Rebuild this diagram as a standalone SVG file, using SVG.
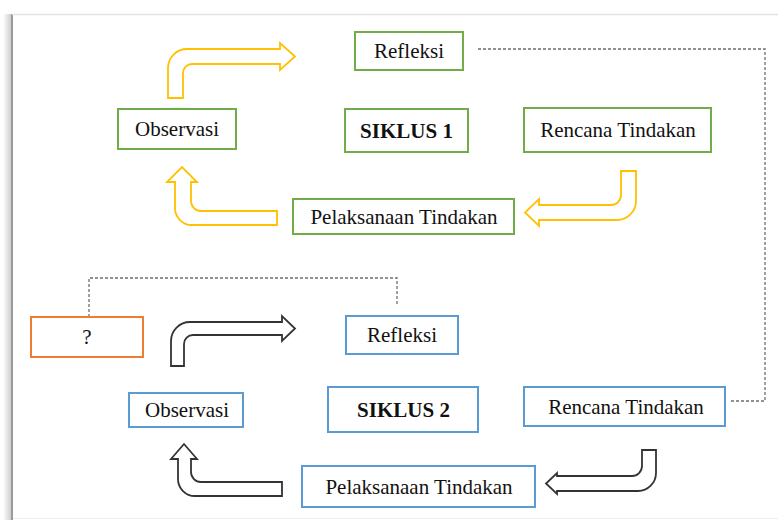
<svg xmlns="http://www.w3.org/2000/svg" width="778" height="520" viewBox="0 0 778 520">
  <defs>
    <linearGradient id="shadowL" x1="0" y1="0" x2="1" y2="0">
      <stop offset="0" stop-color="#ffffff"/>
      <stop offset="1" stop-color="#c8c8c8"/>
    </linearGradient>
    <style>
      text { font-family: "Liberation Serif", "Times New Roman", serif; font-size: 21px; fill: #111111; text-anchor: middle; }
      .bold { font-weight: bold; }
      .g { fill: #ffffff; stroke: #70AD47; stroke-width: 2; }
      .b { fill: #ffffff; stroke: #5B9BD5; stroke-width: 2; }
      .o { fill: #ffffff; stroke: #ED7D31; stroke-width: 2; }
      .ya { fill: #ffffff; stroke: #FFC000; stroke-width: 1.8; stroke-linejoin: miter; }
      .ka { fill: #ffffff; stroke: #333333; stroke-width: 1.8; stroke-linejoin: miter; }
      .dash { fill: none; stroke: #6e6e6e; stroke-width: 1.3; stroke-dasharray: 3 2; }
    </style>
  </defs>

  <!-- page frame -->
  <rect x="0" y="0" width="778" height="520" fill="#ffffff"/>
  <rect x="3" y="14" width="9" height="506" fill="url(#shadowL)"/>
  <line x1="12" y1="14" x2="12" y2="520" stroke="#9a9a9a" stroke-width="2"/>
  <line x1="12" y1="14.5" x2="778" y2="14.5" stroke="#e4e4e4" stroke-width="1.5"/>
  <line x1="13" y1="518.5" x2="778" y2="518.5" stroke="#eeeeee" stroke-width="1"/>

  <!-- connectors -->
  <g id="connectors">
    <path class="dash" d="M478,49 H765 V401 H729"/>
    <path class="dash" d="M89,317 V278 H397 V306"/>
    <!-- yellow cycle 1 arrows -->
    <path class="ya" d="M168,98 V68 A19,19 0 0 1 187,49 H280 V43 L295,56.5 L280,70 V64 H192 A9,9 0 0 0 183,73 V98 Z"/>
    <path class="ya" d="M277,225 H192 A17,17 0 0 1 175,208 V182 H167 L182,167 L197,182 H191 V201 A10,10 0 0 0 201,211 H277 Z"/>
    <path class="ya" d="M621,171 H636 V201 A19,19 0 0 1 617,220 H539 V226 L525,212.5 L539,199 V205 H611 A10,10 0 0 0 621,195 Z"/>
    <!-- black cycle 2 arrows -->
    <path class="ka" d="M171,366 V341 A19,19 0 0 1 190,322 H282 V316 L295,328.5 L282,341 V335 H193 A9,9 0 0 0 184,344 V366 Z"/>
    <path class="ka" d="M282,496 H195 A17,17 0 0 1 178,479 V459 H171 L184,444 L197,459 H191 V472 A10,10 0 0 0 201,482 H282 Z"/>
    <path class="ka" d="M642,450 H656 V473 A18,18 0 0 1 638,491 H557 V494 L546,483.5 L557,473 V476 H632 A10,10 0 0 0 642,466 Z"/>
  </g>

  <!-- cycle 1 -->
  <g id="refleksi1"><rect class="g" x="355" y="32" width="108" height="38"/><text x="409" y="58">Refleksi</text></g>
  <g id="observasi1"><rect class="g" x="118" y="109" width="118" height="40"/><text x="177" y="136">Observasi</text></g>
  <g id="siklus1"><rect class="g" x="345" y="109" width="123" height="43"/><text class="bold" x="406.5" y="137.5">SIKLUS 1</text></g>
  <g id="rencana1"><rect class="g" x="524" y="108" width="187" height="44"/><text x="618" y="137">Rencana Tindakan</text></g>
  <g id="pelaksanaan1"><rect class="g" x="293" y="199" width="221" height="35"/><text x="404" y="223.5">Pelaksanaan Tindakan</text></g>

  <!-- cycle 2 -->
  <g id="tanya"><rect class="o" x="31" y="317" width="112" height="40"/><text x="87" y="344">?</text></g>
  <g id="refleksi2"><rect class="b" x="346" y="316" width="112" height="38"/><text x="402" y="342">Refleksi</text></g>
  <g id="observasi2"><rect class="b" x="129" y="393" width="114" height="34"/><text x="187" y="417">Observasi</text></g>
  <g id="siklus2"><rect class="b" x="328" y="387" width="150" height="45"/><text class="bold" x="403.5" y="416.5">SIKLUS 2</text></g>
  <g id="rencana2"><rect class="b" x="524" y="387" width="201" height="39"/><text x="626" y="414">Rencana Tindakan</text></g>
  <g id="pelaksanaan2"><rect class="b" x="302" y="466" width="233" height="41"/><text x="419" y="494">Pelaksanaan Tindakan</text></g>
</svg>
